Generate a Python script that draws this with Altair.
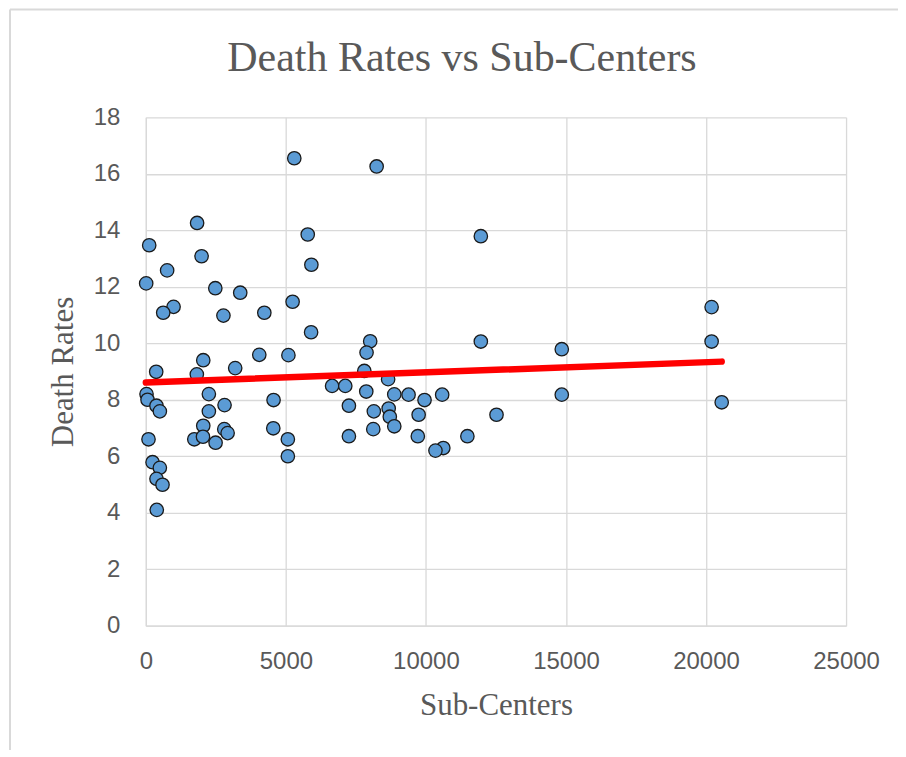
import altair as alt
import pandas as pd

# ---- data ----
sub_centers = [5300, 8240, 1830, 5780, 11960, 120, 1990, 5910, 760, 12,
               2480, 3370, 5240, 990, 620, 4230, 2770, 5900, 20200, 20200,
               11960, 8010, 7880, 14850, 4050, 5090, 2050, 3190, 370, 1820,
               7800, 8650, 6650, 7120, 7870, 8870, 9380, 10580, 14850, 9950,
               20560, 24, 60, 380, 500, 2250, 2810, 2250, 4560, 7250,
               8140, 8670, 8710, 9740, 12520, 8870, 8120, 2050, 2800, 2920,
               4550, 1730, 2040, 2490, 5070, 95, 7250, 9710, 11480, 10620,
               10340, 5070, 240, 500, 380, 595, 390]
death_rates = [16.55, 16.26, 14.26, 13.85, 13.79, 13.47, 13.08, 12.78, 12.58, 12.12,
               11.95, 11.79, 11.47, 11.29, 11.08, 11.08, 10.98, 10.39, 11.28, 10.06,
               10.06, 10.07, 9.67, 9.79, 9.59, 9.58, 9.40, 9.12, 8.99, 8.90,
               9.02, 8.73, 8.49, 8.49, 8.29, 8.19, 8.18, 8.18, 8.18, 7.99,
               7.91, 8.20, 8.00, 7.79, 7.59, 8.20, 7.81, 7.59, 7.99, 7.79,
               7.59, 7.69, 7.40, 7.47, 7.47, 7.06, 6.96, 7.08, 6.96, 6.82,
               6.99, 6.60, 6.69, 6.48, 6.60, 6.60, 6.71, 6.71, 6.71, 6.29,
               6.20, 6.00, 5.79, 5.59, 5.20, 4.99, 4.10]
trend_x = [0, 20560]
trend_y = [8.61, 9.35]
x_ticks = [0, 5000, 10000, 15000, 20000, 25000]
y_ticks = [0, 2, 4, 6, 8, 10, 12, 14, 16, 18]
chart_title = ["Death Rates vs Sub-Centers"]

pts = pd.DataFrame({"Sub-Centers": sub_centers, "Death Rates": death_rates})
trend = pd.DataFrame({"x": trend_x, "y": trend_y})

TEXT = "#595959"
GRID = "#d9d9d9"

xscale = alt.Scale(domain=[0, 25000], nice=False, zero=False)
yscale = alt.Scale(domain=[0, 18], nice=False, zero=False)

xaxis = alt.Axis(title="Sub-Centers", values=x_ticks, format="d",
                 labelPadding=24, titlePadding=17, labelFlush=False)
yaxis = alt.Axis(title="Death Rates", values=y_ticks, format="d",
                 labelPadding=26, titlePadding=14, labelFlush=False)

points = alt.Chart(pts).mark_point(
    shape="circle", filled=True, size=180, fill="#5b9bd5", fillOpacity=1,
    stroke="#1a1a1a", strokeWidth=1.3, opacity=1
).encode(
    x=alt.X("Sub-Centers:Q", scale=xscale, axis=xaxis),
    y=alt.Y("Death Rates:Q", scale=yscale, axis=yaxis),
)

line = alt.Chart(trend).mark_line(color="#ff0000", strokeWidth=6.5, strokeCap="round").encode(
    x=alt.X("x:Q", scale=xscale),
    y=alt.Y("y:Q", scale=yscale),
)

# chart frame (decorative border of the chart area)
frame_left = alt.Chart(pd.DataFrame({"a": [0]})).mark_rule(color=GRID, strokeWidth=2, clip=False).encode(
    x=alt.value(-136), y=alt.value(-108), y2=alt.value(640))
frame_top = alt.Chart(pd.DataFrame({"a": [0]})).mark_rule(color=GRID, strokeWidth=2, clip=False).encode(
    x=alt.value(-136), x2=alt.value(760), y=alt.value(-108))

title = alt.Chart(pd.DataFrame({"t": chart_title})).mark_text(
    font="Liberation Serif", fontSize=42, color=TEXT, align="center",
    baseline="alphabetic", clip=False
).encode(text="t:N", x=alt.value(316.5), y=alt.value(-46))

chart = alt.layer(frame_left, frame_top, title, points, line).properties(
    width=701, height=509,
    autosize=alt.AutoSizeParams(type="none"),
    padding={"left": 138, "top": 109, "right": 52, "bottom": 124},
).configure_view(strokeWidth=0).configure_axis(
    labelFont="Liberation Sans", labelFontSize=24, labelColor=TEXT,
    titleFont="Liberation Serif", titleFontSize=31, titleFontWeight="normal", titleColor=TEXT,
    ticks=False, tickSize=0, domainColor=GRID, domainWidth=1.3,
    gridColor=GRID, gridWidth=1.3,
)

chart.save("out.html", embed_options={"renderer": "svg", "actions": False})
